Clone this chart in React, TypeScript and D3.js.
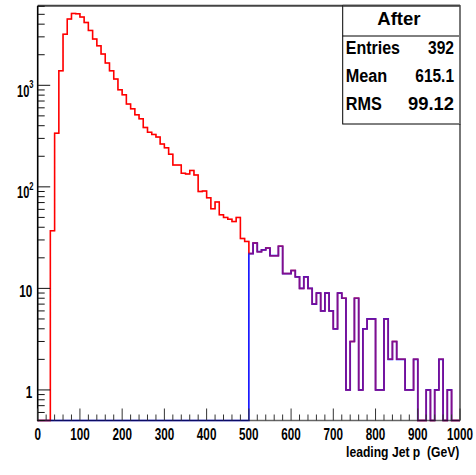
import React from "react";
import * as d3 from "d3";

// histogram: 100 bins of 10 GeV from 0 to 1000
const binEdges = d3.range(0, 1001, 10);

// red: all events
const beforeCounts = [
  0, 0, 0, 37, 338, 1390, 3181, 4490, 5098, 5063,
  4697, 4156, 3467, 2853, 2450, 2030, 1655, 1390, 1151, 903,
  806, 653, 587, 512, 468, 384, 344, 328, 309, 264,
  242, 210, 164, 164, 136, 134, 145, 131, 90, 91,
  78, 61, 71, 53, 50, 48, 45.5, 50, 31, 29,
  22, 28, 23, 24, 25, 21, 21, 26, 14, 14,
  15, 13, 10, 13, 10, 7, 9, 6, 9, 6,
  4, 9, 8, 1, 3, 8, 1, 4, 5, 5,
  1, 1, 5, 2, 3, 2, 2, 1, 1, 2,
  0, 0, 1, 0, 1, 2, 0, 1, 0, 0,
];

// blue: after the 500 GeV cut
const afterCounts = [
  0, 0, 0, 0, 0, 0, 0, 0, 0, 0,
  0, 0, 0, 0, 0, 0, 0, 0, 0, 0,
  0, 0, 0, 0, 0, 0, 0, 0, 0, 0,
  0, 0, 0, 0, 0, 0, 0, 0, 0, 0,
  0, 0, 0, 0, 0, 0, 0, 0, 0, 0,
  22, 28, 23, 24, 25, 21, 21, 26, 14, 14,
  15, 13, 10, 13, 10, 7, 9, 6, 9, 6,
  4, 9, 8, 1, 3, 8, 1, 4, 5, 5,
  1, 1, 5, 2, 3, 2, 2, 1, 1, 2,
  0, 0, 1, 0, 1, 2, 0, 1, 0, 0,
];

const xTickValues = [0, 100, 200, 300, 400, 500, 600, 700, 800, 900, 1000];
const xTickLabels = ["0", "100", "200", "300", "400", "500", "600", "700", "800", "900", "1000"];
const yMajorValues = [1, 10, 100, 1000];
const yMajorBase = ["1", "10", "10", "10"];
const yMajorExp = ["", "", "2", "3"];

const statTitle = "After";
const statNames = ["Entries", "Mean", "RMS"];
const statValues = ["392", "615.1", "99.12"];
const xTitle = "leading Jet p  (GeV)";

const W = 476, H = 475;
const left = 37.7, right = 460, top = 5.7, bottom = 420.5;
const font = "'Liberation Sans', Arial, Helvetica, sans-serif";

function Txt({ x, y, sx = 1, anchor = "start", size = 17, children, len }: any) {
  return (
    <g transform={`translate(${x},${y}) scale(${sx},1)`}>
      <text
        textAnchor={anchor}
        fontSize={size}
        fontWeight="bold"
        fontFamily={font}
        fill="#000"
        style={{ whiteSpace: "pre" }}
        textLength={len}
        lengthAdjust={len ? "spacingAndGlyphs" : undefined}
      >
        {children}
      </text>
    </g>
  );
}

export default function App() {
  const x = d3.scaleLinear().domain([0, 1000]).range([left, right]);
  const y = d3.scaleLog().domain([0.5, 6080]).range([bottom, top]);

  const stepPath = (counts: number[]) => {
    let d = `M${x(binEdges[0])},${bottom}`;
    counts.forEach((c, i) => {
      const yy = c > 0 ? y(c) : bottom;
      d += `L${x(binEdges[i])},${yy}L${x(binEdges[i + 1])},${yy}`;
    });
    d += `L${x(binEdges[binEdges.length - 1])},${bottom}`;
    return d;
  };

  // log minor ticks
  const yMinor: number[] = [];
  [0.1, 1, 10, 100, 1000].forEach((dec) => {
    for (let k = 2; k <= 9; k++) {
      const v = dec * k;
      if (v >= 0.5 && v <= 6080) yMinor.push(v);
    }
  });
  const xMinor = d3.range(0, 1001, 20).filter((v) => v % 100 !== 0);

  const boxL = 342.7, boxB = 124, sep = 36;
  const redPath = stepPath(beforeCounts);

  return (
    <svg width={W} height={H} style={{ position: "absolute", left: 0, top: 0, background: "#fff" }}>
      <rect x={0} y={0} width={W} height={H} fill="#fff" />

      {/* histograms: red, blue on top, red blended over so overlap looks purple */}
      <path d={redPath} fill="none" stroke="#ff0000" strokeWidth={1.5} />
      <path d={stepPath(afterCounts)} fill="none" stroke="#1a1aff" strokeWidth={1.7} />
      <path d={redPath} fill="none" stroke="#ff0000" strokeWidth={1.3} strokeOpacity={0.45} />

      {/* frame */}
      <line x1={left} x2={right} y1={top} y2={top} stroke="#444" strokeWidth={2} />
      <line x1={right} x2={right} y1={top} y2={bottom} stroke="#777" strokeWidth={2} />
      <line x1={left} x2={left} y1={top} y2={bottom + 0.8} stroke="#000" strokeWidth={1.6} />
      <line x1={left} x2={right} y1={bottom} y2={bottom} stroke="#000" strokeWidth={1.4} strokeOpacity={0.6} />

      {/* y ticks */}
      {yMajorValues.map((v) => (
        <line key={"ym" + v} x1={left} x2={left + 12.5} y1={y(v)} y2={y(v)} stroke="#111" strokeWidth={1} />
      ))}
      {yMinor.map((v) => (
        <line key={"yn" + v} x1={left} x2={left + 7} y1={y(v)} y2={y(v)} stroke="#111" strokeWidth={1} />
      ))}
      {/* x ticks */}
      {xTickValues.map((v) => (
        <line key={"xm" + v} x1={x(v)} x2={x(v)} y1={bottom} y2={bottom - 12} stroke="#333" strokeWidth={1} />
      ))}
      {xMinor.map((v) => (
        <line key={"xn" + v} x1={x(v)} x2={x(v)} y1={bottom} y2={bottom - 6} stroke="#333" strokeWidth={1} />
      ))}

      {/* x labels */}
      {xTickValues.map((v, i) => (
        <Txt key={"xl" + v} x={x(v)} y={439.8} sx={0.71} anchor="middle" size={16.5}>
          {xTickLabels[i]}
        </Txt>
      ))}

      {/* y labels */}
      {yMajorValues.map((v, i) =>
        yMajorExp[i] === "" ? (
          <Txt key={"yl" + v} x={32.3} y={y(v) + 8.3} sx={0.69} anchor="end" size={17}>
            {yMajorBase[i]}
          </Txt>
        ) : (
          <g key={"yl" + v}>
            <Txt x={29.3} y={y(v) + 11.3} sx={0.69} anchor="end" size={16}>
              {yMajorBase[i]}
            </Txt>
            <Txt x={29.3} y={y(v) + 2.8} sx={0.69} anchor="start" size={11}>
              {yMajorExp[i]}
            </Txt>
          </g>
        )
      )}

      {/* axis title */}
      <Txt x={459.3} y={456.5} sx={0.81} anchor="end" size={15}>
        {xTitle}
      </Txt>

      {/* stats box */}
      <rect x={boxL} y={top} width={right - boxL} height={boxB - top} fill="#fff" stroke="#000" strokeWidth={1} />
      <line x1={boxL} x2={right} y1={sep} y2={sep} stroke="#000" strokeWidth={1} />
      <line x1={right} x2={right} y1={top} y2={boxB} stroke="#777" strokeWidth={2} />
      <line x1={boxL} x2={right} y1={top} y2={top} stroke="#444" strokeWidth={2} />
      <Txt x={377.3} y={25} size={18} len={43.3}>{statTitle}</Txt>
      <Txt x={345.7} y={54} size={18} len={54.3}>{statNames[0]}</Txt>
      <Txt x={428} y={54} size={18} len={26}>{statValues[0]}</Txt>
      <Txt x={345.7} y={81.7} size={18} len={41.6}>{statNames[1]}</Txt>
      <Txt x={415.3} y={81.7} size={18} len={38.7}>{statValues[1]}</Txt>
      <Txt x={345.7} y={110} size={18} len={36}>{statNames[2]}</Txt>
      <Txt x={408} y={110} size={18} len={46}>{statValues[2]}</Txt>
    </svg>
  );
}
